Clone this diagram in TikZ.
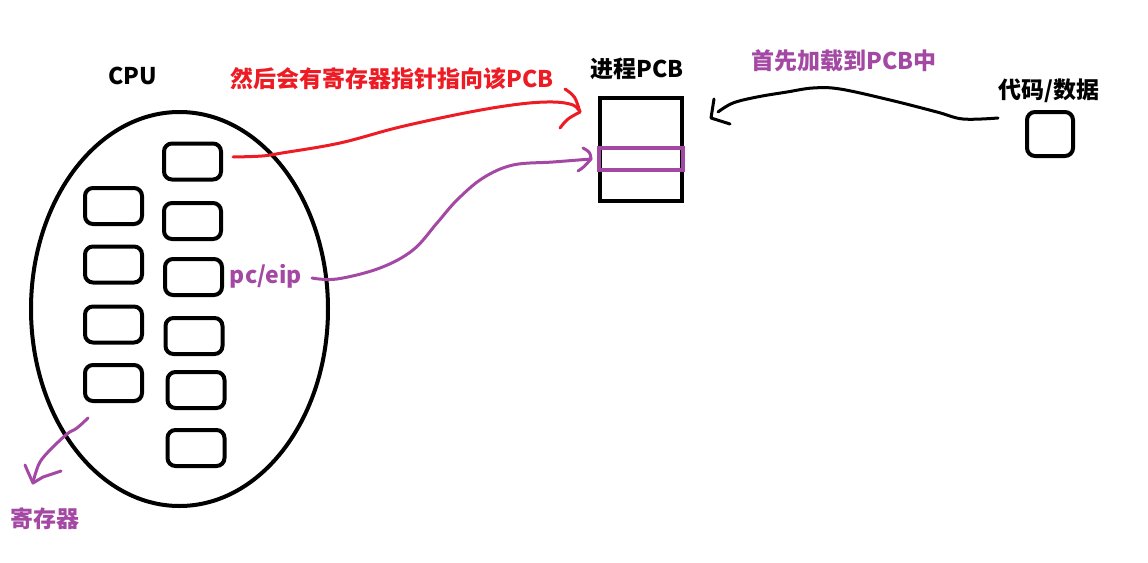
\documentclass[tikz,border=0pt]{standalone}
\usepackage{fontspec}
\usetikzlibrary{shapes.geometric}
\newfontfamily\cjk{Noto Sans CJK SC}
\definecolor{mspurple}{HTML}{A349A4}
\definecolor{msred}{HTML}{ED1C24}
\begin{document}
\begin{tikzpicture}[x=1pt,y=-1pt,
  reg/.style={draw,line width=4pt,rounded corners=8pt,minimum width=57pt,minimum height=36pt,inner sep=0pt},
  lbl/.style={font=\cjk\bfseries\fontsize{23}{25}\selectfont,inner sep=0pt},
  hand/.style={line width=3pt,line cap=round,line join=round}]
\useasboundingbox (0,0) rectangle (1148,562);
% CPU
\node[draw,line width=4pt,ellipse,minimum width=297pt,minimum height=394pt,inner sep=0pt] (cpu) at (179.5,309) {};
\node[lbl] (cputxt) at (133,76) {CPU};
% left column registers
\node[reg] (l1) at (113.5,206) {};
\node[reg] (l2) at (113.5,264.5) {};
\node[reg] (l3) at (113.5,324.5) {};
\node[reg] (l4) at (113.5,383) {};
% right column registers
\node[reg] (r1) at (192.5,161.5) {};
\node[reg] (r2) at (192.5,221) {};
\node[reg] (r3) at (193.5,277) {};
\node[reg] (r4) at (194,336) {};
\node[reg] (r5) at (196,390) {};
\node[reg] (r6) at (196,448) {};
% PCB
\node[lbl] (pcbtxt) at (637,69) {进程PCB};
\node[draw,line width=4pt,minimum width=82pt,minimum height=103pt,inner sep=0pt] (pcb) at (641,149.5) {};
\node[draw=mspurple,line width=4pt,minimum width=84pt,minimum height=22pt,inner sep=0pt] (slot) at (641,159) {};
% code/data
\node[lbl] (codetxt) at (1049,91) {代码/数据};
\node[draw,line width=4pt,rounded corners=8pt,minimum width=46pt,minimum height=44pt,inner sep=0pt] (code) at (1050,134) {};
% labels
\node[lbl,text=msred] (redtxt) at (392,79) {然后会有寄存器指针指向该PCB};
\node[lbl,text=mspurple] (loadtxt) at (844,61) {首先加载到PCB中};
\node[lbl,text=mspurple] (pctxt) at (266,276) {pc/eip};
\node[lbl,text=mspurple] (regtxt) at (45,519) {寄存器};
% red connector
\coordinate (rs) at (233,157);
\coordinate (rt) at (580,112);
\draw[hand,msred] plot[smooth,tension=0.6] coordinates {(rs) (262,156) (282,153) (340,143) (400,127) (470,112) (520,104) (553,102) (573,105) (rt)};
\draw[hand,msred] (565,89) .. controls (575,96) .. (rt) .. controls (567,119) .. (560,128);
% purple connector
\coordinate (ps) at (312,278);
\coordinate (pt) at (591,159);
\draw[hand,mspurple] plot[smooth,tension=0.6] coordinates {(ps) (337,279) (380,268) (413,250) (437,223) (457,200) (483,178) (513,165) (553,162) (pt)};
\draw[hand,mspurple] (583,148) .. controls (590,152) .. (pt) .. controls (584,167) .. (578,171);
% black connector
\coordinate (bs) at (998,118);
\coordinate (bt) at (714,116);
\draw[hand,black] plot[smooth,tension=0.6] coordinates {(bs) (963,119) (937,112) (890,100) (840,89) (813,88) (787,92) (757,97) (733,103) (718,112)};
\draw[hand,black] (714,99) -- (711,118) -- (730,124);
% register pointer
\coordinate (gs) at (88,418);
\coordinate (gt) at (33,483);
\draw[hand,mspurple] plot[smooth,tension=0.6] coordinates {(gs) (77,428) (67,434) (50,450) (40,462) (35,475) (gt)};
\draw[hand,mspurple] (25,465) -- (28,472) -- (gt) -- (43,477) -- (61,471);
\end{tikzpicture}
\end{document}
